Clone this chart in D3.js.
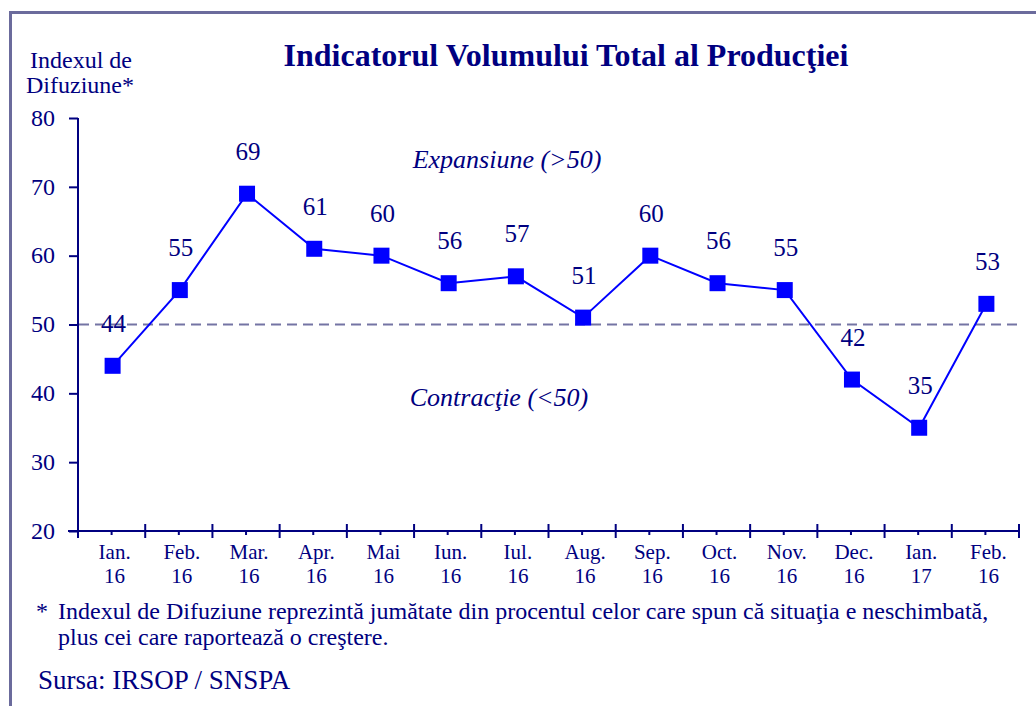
<!DOCTYPE html>
<html><head><meta charset="utf-8">
<script src="https://cdn.jsdelivr.net/npm/d3@7"></script>
<style>body{margin:0;background:#fff;}</style></head>
<body><svg id="c" width="1036" height="706"></svg>
<script>
const months = ["Ian.","Feb.","Mar.","Apr.","Mai","Iun.","Iul.","Aug.","Sep.","Oct.","Nov.","Dec.","Ian.","Feb."];
const years = ["16","16","16","16","16","16","16","16","16","16","16","16","17","16"];
const values = [44,55,69,61,60,56,57,51,60,56,55,42,35,53];
const yTicks = [20,30,40,50,60,70,80];
const threshold = 50;

const svg = d3.select("#c");
const navy = "#000080";
// frame
svg.append("path").attr("d","M10.5,706 L10.5,12.5 L1036,12.5").attr("fill","none")
  .attr("stroke","#6b6b9c").attr("stroke-width",3);

const idx = d3.range(values.length);
const x = d3.scaleBand().domain(idx).range([78,1019]);
const y = d3.scaleLinear().domain([20,80]).range([531,118]);

// y axis
const ya = svg.append("g").attr("transform","translate(78,0)")
  .call(d3.axisLeft(y).tickValues(yTicks).tickSize(9).tickPadding(14));
ya.select(".domain").attr("stroke",navy).attr("stroke-width",2).attr("d","M0,118V531");
ya.selectAll(".tick line").attr("stroke",navy).attr("stroke-width",2);
ya.selectAll(".tick text").attr("font-size",24).attr("dy","0.3em");

// x axis
const xg = svg.append("g");
xg.append("line").attr("x1",68).attr("x2",1020).attr("y1",531).attr("y2",531).attr("stroke",navy).attr("stroke-width",2);
const bounds = idx.map(i=>x(i)).concat([x.range()[1]]);
xg.selectAll(".maj").data(bounds).join("line").attr("x1",d=>d).attr("x2",d=>d)
  .attr("y1",524).attr("y2",538).attr("stroke",navy).attr("stroke-width",2);
xg.selectAll(".min").data(idx).join("line").attr("x1",i=>x(i)+x.bandwidth()/2).attr("x2",i=>x(i)+x.bandwidth()/2)
  .attr("y1",531).attr("y2",535).attr("stroke",navy).attr("stroke-width",2);
xg.selectAll(".m").data(idx).join("text").attr("x",i=>x(i)+x.bandwidth()/2+3).attr("y",559)
  .attr("text-anchor","middle").attr("font-size",21).text(i=>months[i]);
xg.selectAll(".yr").data(idx).join("text").attr("x",i=>x(i)+x.bandwidth()/2+3).attr("y",583)
  .attr("text-anchor","middle").attr("font-size",21).text(i=>years[i]);

// threshold dashed
svg.append("line").attr("x1",79).attr("x2",1019).attr("y1",y(threshold)).attr("y2",y(threshold))
  .attr("stroke","#7474a4").attr("stroke-width",2).attr("stroke-dasharray","10,6");

// line
const cx = i=>x(i)+x.bandwidth()/2;
svg.append("path").datum(idx).attr("fill","none").attr("stroke","#0000ff").attr("stroke-width",2)
  .attr("d",d3.line().x(i=>cx(i)+1).y(i=>y(values[i])));
svg.selectAll(".pt").data(idx).join("rect").attr("x",i=>cx(i)-7).attr("y",i=>y(values[i])-8)
  .attr("width",16).attr("height",16).attr("fill","#0000ff");
svg.selectAll(".lbl").data(idx).join("text").attr("x",i=>cx(i)+2).attr("y",i=>y(values[i])-34)
  .attr("text-anchor","middle").attr("font-size",25).text(i=>values[i]);

// titles
svg.append("text").attr("x",566).attr("y",66).attr("text-anchor","middle").attr("font-size",32)
  .attr("font-weight","bold").text("Indicatorul Volumului Total al Producţiei");
svg.append("text").attr("x",30).attr("y",68).attr("font-size",24).text("Indexul de");
svg.append("text").attr("x",26).attr("y",93).attr("font-size",24).text("Difuziune*");
svg.append("text").attr("x",507).attr("y",168).attr("text-anchor","middle").attr("font-size",26)
  .attr("font-style","italic").text("Expansiune (>50)");
svg.append("text").attr("x",499).attr("y",406).attr("text-anchor","middle").attr("font-size",26)
  .attr("font-style","italic").text("Contracţie (<50)");

// footnotes
svg.append("text").attr("x",36).attr("y",619).attr("font-size",24).text("*");
svg.append("text").attr("x",58).attr("y",619).attr("font-size",24)
  .text("Indexul de Difuziune reprezintă jumătate din procentul celor care spun că situaţia e neschimbată,");
svg.append("text").attr("x",58).attr("y",645).attr("font-size",24)
  .text("plus cei care raportează o creştere.");
svg.append("text").attr("x",38).attr("y",689).attr("font-size",27).text("Sursa: IRSOP / SNSPA");

svg.selectAll("text").style("font-family","'Liberation Serif'").style("fill",navy);
</script></body></html>
